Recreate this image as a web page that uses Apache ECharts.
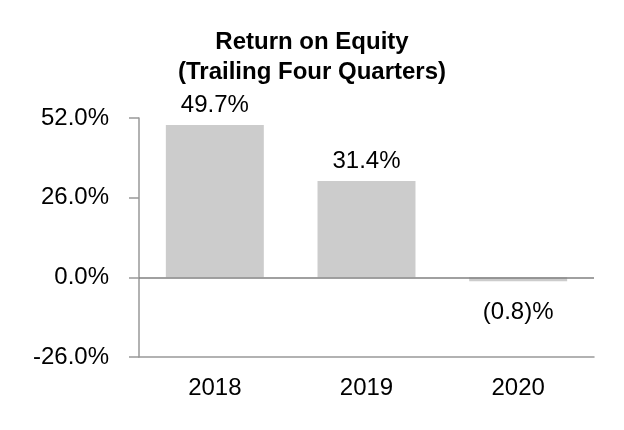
<!DOCTYPE html>
<html>
<head>
<meta charset="utf-8">
<script src="https://cdn.jsdelivr.net/npm/echarts@6/dist/echarts.min.js"></script>
<style>html,body{margin:0;padding:0;background:#fff;}#c{width:624px;height:430px;}</style>
</head>
<body>
<div id="c"></div>
<script>
var categories = ['2018', '2019', '2020'];
var roeValues = [49.7, 31.4, -0.8];
var yTicks = [-26, 0, 26, 52];
var titleText = 'Return on Equity\n(Trailing Four Quarters)';

var FONT = '"Liberation Sans", Arial, sans-serif';
var chart = echarts.init(document.getElementById('c'), null, {renderer: 'canvas'});

var seriesData = roeValues.map(function (v) {
  return v < 0 ? {value: v, label: {position: 'bottom', distance: 19}} : v;
});

chart.setOption({
  animation: false,
  backgroundColor: '#ffffff',
  title: {
    text: titleText,
    left: 'center',
    top: 22,
    textStyle: {fontFamily: FONT, fontSize: 24, fontWeight: 'bold', color: '#000', lineHeight: 30}
  },
  grid: {left: 139, right: 30, top: 118, bottom: 73, containLabel: false},
  xAxis: {
    type: 'category',
    data: categories,
    axisLine: {onZero: false, lineStyle: {color: '#999', width: 1.5}},
    axisTick: {alignWithLabel: true, length: 11, lineStyle: {color: '#999', width: 1.5}},
    axisLabel: {fontFamily: FONT, fontSize: 24, color: '#000', margin: 19}
  },
  yAxis: {
    type: 'value',
    min: yTicks[0],
    max: yTicks[yTicks.length - 1],
    interval: yTicks[1] - yTicks[0],
    axisLine: {show: true, lineStyle: {color: '#999', width: 1.5}},
    axisTick: {show: true, length: 10, lineStyle: {color: '#999', width: 1.5}},
    splitLine: {show: false},
    axisLabel: {fontFamily: FONT, fontSize: 24, color: '#000', margin: 30,
      formatter: function (v) { return v.toFixed(1) + '%'; }}
  },
  series: [{
    type: 'bar',
    data: seriesData,
    barWidth: '64.6%',
    barMinHeight: 4,
    itemStyle: {color: '#cccccc'},
    label: {
      show: true,
      fontFamily: FONT, fontSize: 24, color: '#000',
      position: 'top',
      distance: 8,
      formatter: function (p) {
        var v = p.value;
        return v < 0 ? '(' + Math.abs(v).toFixed(1) + ')%' : v.toFixed(1) + '%';
      }
    },
    markLine: {
      silent: true,
      symbol: 'none',
      label: {show: false},
      lineStyle: {color: '#808080', width: 1.5, type: 'solid'},
      data: [{yAxis: 0}]
    }
  }]
});
</script>
</body>
</html>
